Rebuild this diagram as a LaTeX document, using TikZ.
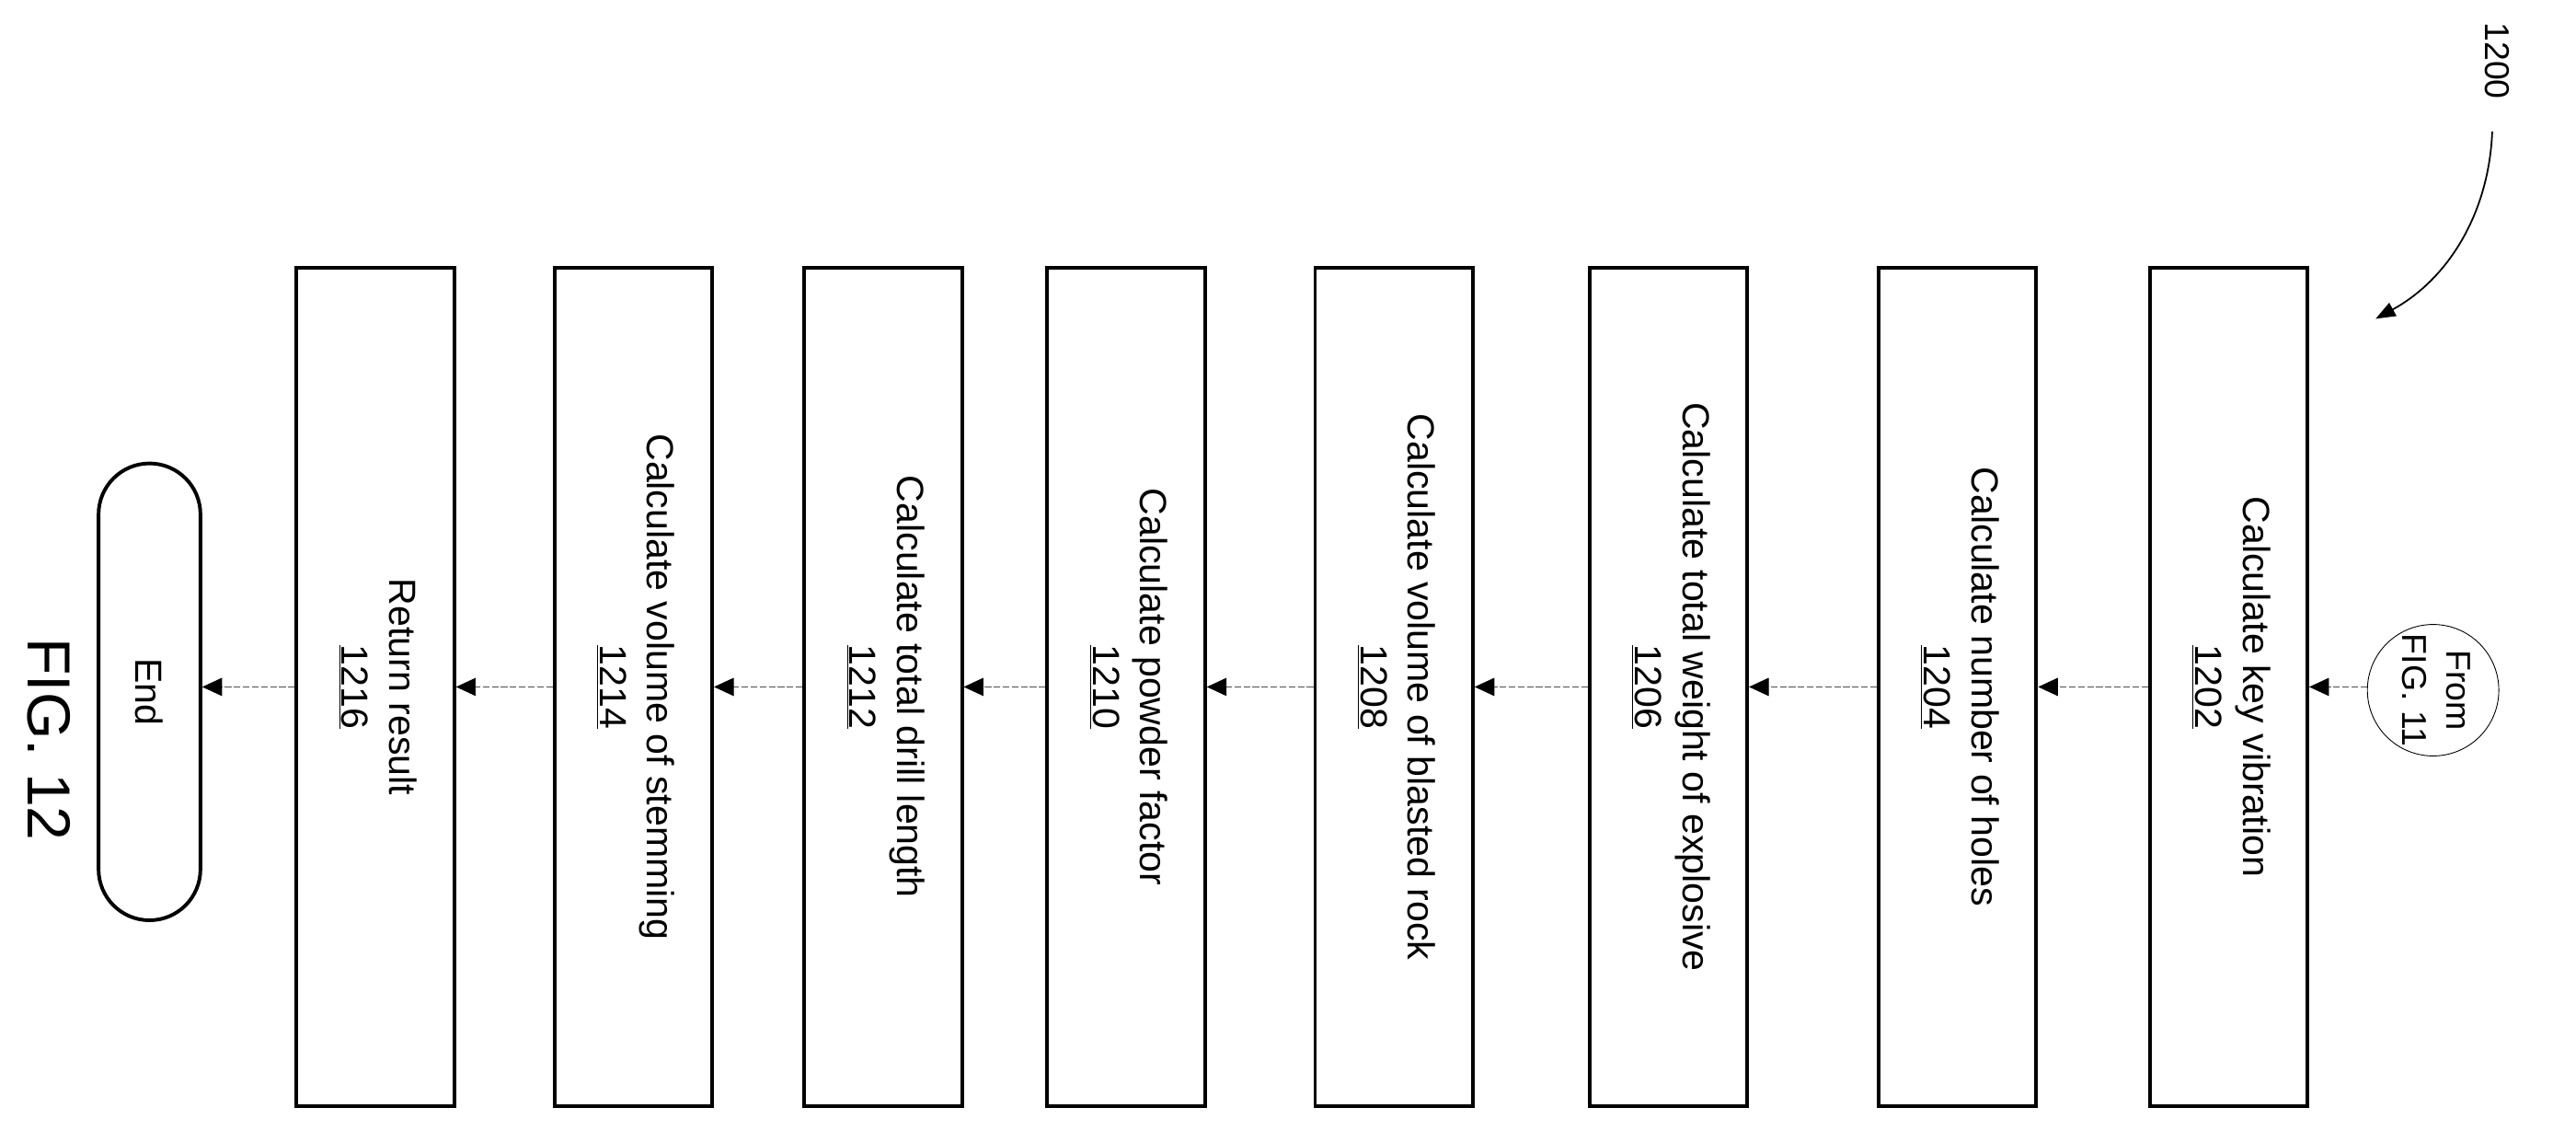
\documentclass[tikz,border=0pt]{standalone}
\usepackage{fontspec}
\setmainfont{Liberation Sans}
\usetikzlibrary{arrows.meta,shapes.misc}
\begin{document}
\begin{tikzpicture}[x=1pt,y=-1pt,
  stepbox/.style={draw,line width=2.2pt,minimum width=96pt,minimum height=510pt,inner sep=0pt},
  lbl/.style={rotate=-90,align=center,font=\fontsize{23}{29}\selectfont},
  conn/.style={draw,gray!60!black,line width=0.5pt,dashed,dash pattern=on 4pt off 1.5pt,-{Triangle[length=12pt,width=11pt,black]}}]
\useasboundingbox (0,0) rectangle (1568,688);
\foreach \n/\x/\t in {1202/1358/Calculate key vibration,1204/1193/Calculate number of holes,1206/1017/Calculate total weight of explosive,1208/850/Calculate volume of blasted rock,1210/687/Calculate powder factor,1212/539/Calculate total drill length,1214/387/Calculate volume of stemming,1216/230/Return result}{
  \node[stepbox] (b\n) at (\x-1.5,418) {};
  \node[lbl] at (\x,418) {\t\\\underline{\n}};
}
\node[draw,line width=0.5pt,circle,minimum size=80pt,inner sep=0pt] (start) at (1481,420) {};
\node[rotate=-90,align=center,font=\fontsize{21}{27}\selectfont] at (1483,420) {From\\FIG. 11};
\node[draw,line width=2.2pt,rounded rectangle,rotate=-90,minimum width=278pt,minimum height=62pt,inner sep=0pt] (end) at (91,421) {};
\node[lbl] at (91,421) {End};
\path[conn] (start.west|-0,418) -- (b1202.east|-0,418);
\path[conn] (b1202.west|-0,418) -- (b1204.east|-0,418);
\path[conn] (b1204.west|-0,418) -- (b1206.east|-0,418);
\path[conn] (b1206.west|-0,418) -- (b1208.east|-0,418);
\path[conn] (b1208.west|-0,418) -- (b1210.east|-0,418);
\path[conn] (b1210.west|-0,418) -- (b1212.east|-0,418);
\path[conn] (b1212.west|-0,418) -- (b1214.east|-0,418);
\path[conn] (b1214.west|-0,418) -- (b1216.east|-0,418);
\path[conn] (b1216.west|-0,418) -- (end.north|-0,418);
\node[rotate=-90,font=\fontsize{37}{42}\selectfont] (fig) at (30,450) {FIG. 12};
\node[rotate=-90,font=\fontsize{21}{24}\selectfont] (ref) at (1520,37) {1200};
\coordinate (tip) at (1446,194);
\draw[line width=1pt,-{Triangle[length=12pt,width=9pt]}] (1517,80) .. controls (1515,130) and (1490,170) .. (tip);
\end{tikzpicture}
\end{document}
